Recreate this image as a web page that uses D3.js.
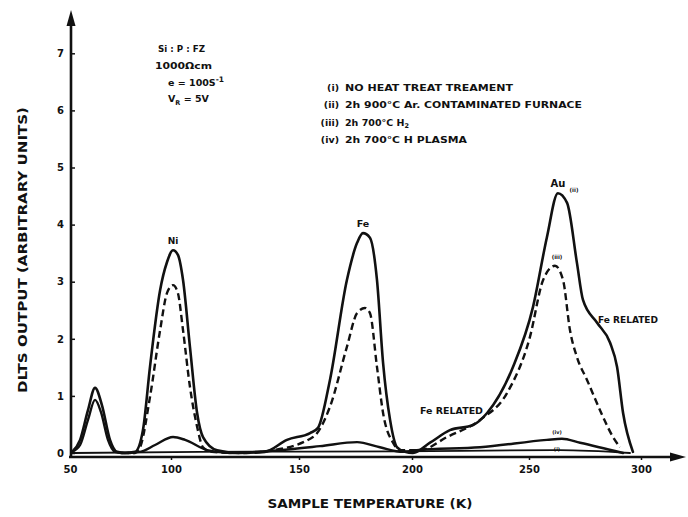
<!DOCTYPE html>
<html>
<head>
<meta charset="utf-8">
<script src="https://cdn.jsdelivr.net/npm/d3@7"></script>
<style>
  html, body { margin: 0; padding: 0; background: #fff; }
  svg { display: block; }
  text { font-family: "DejaVu Sans", "Liberation Sans", sans-serif; font-weight: bold; fill: #111; }
</style>
</head>
<body>
<svg id="chart" width="688" height="517"></svg>
<script>
// ---- axis ticks ----
const xTicks = [50, 100, 150, 200, 250, 300];   // sample temperature (K)
const yTicks = [0, 1, 2, 3, 4, 5, 6, 7];         // DLTS output (arbitrary units)

// ---- (ii) 2h 900°C Ar, contaminated furnace ----
const tempII = [51.0, 55.0, 58.9, 62.4, 65.8, 69.8, 73.3, 77.2, 82.2, 86.1, 89.6, 94.6, 98.0, 100.8, 102.7, 104.7,
  107.4, 110.2, 112.5, 118.0, 127.0, 136.7, 145.3, 154.9, 158.4, 163.7, 171.2, 175.7, 178.3, 181.4, 184.5,
  187.2, 190.3, 193.4, 196.9, 200.4, 207.7, 216.2, 226.1, 232.1, 243.2, 251.8, 258.0, 262.9, 267.0, 271.4,
  274.1, 280.4, 286.2, 289.3, 292.0, 296.4];
const dltsII = [0.02, 0.23, 0.75, 1.14, 0.84, 0.23, 0.02, 0.0, 0.02, 0.40, 1.51, 2.85, 3.34, 3.55, 3.47, 3.03,
  1.86, 0.70, 0.28, 0.05, 0.0, 0.02, 0.23, 0.35, 0.44, 1.28, 3.03, 3.68, 3.85, 3.77, 3.03,
  1.58, 0.58, 0.10, 0.02, 0.0, 0.18, 0.40, 0.49, 0.70, 1.51, 2.56, 3.78, 4.55, 4.38, 3.33,
  2.68, 2.28, 1.93, 1.51, 0.70, 0.02];

// ---- (iii) 2h 700°C H2 ----
const tempIII = [51.0, 55.0, 58.9, 62.4, 65.3, 68.8, 72.3, 75.7, 82.2, 84.7, 89.6, 94.6, 98.0, 100.8, 102.7, 104.7,
  107.4, 110.2, 112.5, 116.0, 127.0, 138.7, 156.2, 163.7, 171.2, 175.7, 179.2, 181.4, 184.5, 187.2, 191.6,
  194.7, 203.4, 215.0, 229.1, 240.6, 250.4, 256.3, 261.6, 265.2, 268.3, 271.4, 275.9, 281.7, 287.5, 290.6];
const dltsIII = [0.02, 0.14, 0.58, 0.93, 0.72, 0.23, 0.02, 0.0, 0.0, 0.10, 0.98, 2.15, 2.80, 2.94, 2.80, 2.15,
  1.16, 0.46, 0.10, 0.02, 0.0, 0.04, 0.28, 0.81, 1.86, 2.45, 2.54, 2.45, 1.51, 0.70, 0.18,
  0.05, 0.05, 0.28, 0.58, 1.05, 2.03, 3.03, 3.28, 3.03, 2.15, 1.68, 1.28, 0.75, 0.28, 0.10];

// ---- (iv) 2h 700°C H plasma ----
const tempIV = [75.2, 84.7, 92.1, 100.8, 105.5, 114.1, 123.0, 142.2, 159.3, 175.7, 185.8, 196.0, 202.1, 229.1,
  258.0, 264.7, 272.8, 292.0];
const dltsIV = [0.0, 0.02, 0.14, 0.28, 0.23, 0.05, 0.0, 0.05, 0.12, 0.19, 0.10, 0.02, 0.05, 0.10,
  0.23, 0.25, 0.18, 0.0];

// ---- (i) no heat treatment ----
const tempI = [51.0, 111.3, 194.7, 263.8, 295.1];
const dltsI = [0.0, 0.02, 0.03, 0.05, 0.0];

const svg = d3.select("#chart");

// hand-ruled temperature axis: tick spacing is not uniform on the plate
const x = d3.scaleLinear().domain(xTicks).range([70, 171, 299, 412, 529, 641]);
const y = d3.scaleLinear().domain([0, 7]).range([453, 53.3]);

const zip = (t, v) => t.map((d, i) => [d, v[i]]);
const line = d3.line().x(d => x(d[0])).y(d => y(d[1])).curve(d3.curveMonotoneX);

const curves = svg.append("g")
  .attr("fill", "none").attr("stroke", "#111")
  .attr("stroke-linejoin", "round").attr("stroke-linecap", "round");

curves.append("path").attr("d", line(zip(tempI, dltsI))).attr("stroke-width", 1.8);
curves.append("path").attr("d", line(zip(tempIV, dltsIV))).attr("stroke-width", 2.4);
curves.append("path").attr("d", line(zip(tempII, dltsII))).attr("stroke-width", 2.6);

const iii = zip(tempIII, dltsIII);
// the low-temperature peak of (iii) is traced as a continuous line
curves.append("path").attr("d", line(iii.filter(d => d[0] <= 76))).attr("stroke-width", 2.4);
curves.append("path").attr("d", line(iii.filter(d => d[0] >= 75)))
  .attr("stroke-width", 2.4).attr("stroke-dasharray", "7,4").attr("stroke-linecap", "butt");

// ---- axes ----
const yAxis = svg.append("g").attr("transform", "translate(71,0)")
  .call(d3.axisLeft(y).tickValues(yTicks).tickSizeInner(-4).tickSizeOuter(0).tickPadding(7).tickFormat(d3.format("d")));
yAxis.select(".domain").remove();
yAxis.selectAll(".tick line").attr("stroke", "#111").attr("stroke-width", 1.5);
yAxis.selectAll(".tick text").attr("font-size", 10).attr("fill", "#111")
  .attr("font-family", "\"DejaVu Sans\", sans-serif").attr("font-weight", "bold");

const xAxis = svg.append("g").attr("transform", "translate(0,457)")
  .call(d3.axisBottom(x).tickValues(xTicks).tickSizeInner(3).tickSizeOuter(0).tickPadding(6).tickFormat(d3.format("d")));
xAxis.select(".domain").remove();
xAxis.selectAll(".tick line").attr("stroke", "#111").attr("stroke-width", 1.5);
xAxis.selectAll(".tick text").attr("font-size", 10).attr("fill", "#111")
  .attr("font-family", "\"DejaVu Sans\", sans-serif").attr("font-weight", "bold");
xAxis.selectAll(".tick").filter(d => d === 50).select("line").remove();

// axis lines with arrow heads
svg.append("line").attr("x1", 71).attr("y1", 458).attr("x2", 71).attr("y2", 22)
  .attr("stroke", "#111").attr("stroke-width", 2.6);
svg.append("path").attr("d", "M71,10 L66.5,26 L75.5,26 Z").attr("fill", "#111");
svg.append("line").attr("x1", 69).attr("y1", 457).attr("x2", 672).attr("y2", 457)
  .attr("stroke", "#111").attr("stroke-width", 2.6);
svg.append("path").attr("d", "M686,457 L670,452.5 L670,461.5 Z").attr("fill", "#111");

// ---- axis titles ----
svg.append("text").attr("transform", "translate(27,250) rotate(-90)")
  .attr("text-anchor", "middle").attr("font-size", 13)
  .attr("textLength", 286).attr("lengthAdjust", "spacingAndGlyphs")
  .text("DLTS OUTPUT (ARBITRARY UNITS)");
svg.append("text").attr("x", 370).attr("y", 508)
  .attr("text-anchor", "middle").attr("font-size", 13)
  .attr("textLength", 205).attr("lengthAdjust", "spacingAndGlyphs")
  .text("SAMPLE TEMPERATURE (K)");

// ---- sample description ----
const info = svg.append("g").attr("font-size", 9.5);
info.append("text").attr("x", 158).attr("y", 52)
  .attr("textLength", 47).attr("lengthAdjust", "spacingAndGlyphs").text("Si : P : FZ");
info.append("text").attr("x", 155).attr("y", 69)
  .attr("textLength", 57).attr("lengthAdjust", "spacingAndGlyphs").text("1000\u03A9cm");
const rate = info.append("text").attr("x", 168).attr("y", 86);
rate.append("tspan").text("e = 100S");
rate.append("tspan").attr("dy", -4).attr("font-size", 7.5).text("-1");
const vr = info.append("text").attr("x", 168).attr("y", 102);
vr.append("tspan").text("V");
vr.append("tspan").attr("dy", 2.5).attr("font-size", 6.5).text("R");
vr.append("tspan").attr("dy", -2.5).text(" = 5V");

// ---- treatment key ----
const keyLabels = ["(i)", "(ii)", "(iii)", "(iv)"];
const keyText = ["NO HEAT TREAT TREAMENT", "2h 900\u00B0C Ar. CONTAMINATED FURNACE", "2h 700\u00B0C H", "2h 700\u00B0C H PLASMA"];
const keyWidths = [168, 237, null, 122];
const key = svg.append("g").attr("font-size", 9.5);
keyLabels.forEach((lab, i) => {
  const yy = 91 + i * 17.3;
  key.append("text").attr("x", 339).attr("y", yy).attr("text-anchor", "end").text(lab);
  const t = key.append("text").attr("x", 345).attr("y", yy).text(keyText[i]);
  if (keyWidths[i]) t.attr("textLength", keyWidths[i]).attr("lengthAdjust", "spacingAndGlyphs");
  if (i === 2) t.append("tspan").attr("dy", 2.5).attr("font-size", 6.5).text("2");
});

// ---- peak annotations ----
const notes = svg.append("g");
notes.append("text").attr("x", x(100.8)).attr("y", 244).attr("text-anchor", "middle").attr("font-size", 9).text("Ni");
notes.append("text").attr("x", x(178.3)).attr("y", 227).attr("text-anchor", "middle").attr("font-size", 9.5).text("Fe");
notes.append("text").attr("x", x(262.9)).attr("y", 187).attr("text-anchor", "middle").attr("font-size", 10).text("Au");
notes.append("text").attr("x", 574).attr("y", 192).attr("text-anchor", "middle").attr("font-size", 5.5).text("(ii)");
notes.append("text").attr("x", 557).attr("y", 259).attr("text-anchor", "middle").attr("font-size", 5.5).text("(iii)");
notes.append("text").attr("x", 557).attr("y", 434).attr("text-anchor", "middle").attr("font-size", 5).text("(iv)");
notes.append("text").attr("x", 557).attr("y", 451).attr("text-anchor", "middle").attr("font-size", 5).text("(i)");
notes.append("text").attr("x", 420).attr("y", 414).attr("font-size", 8.5)
  .attr("textLength", 63).attr("lengthAdjust", "spacingAndGlyphs").text("Fe RELATED");
notes.append("text").attr("x", 598).attr("y", 323).attr("font-size", 8.5)
  .attr("textLength", 60).attr("lengthAdjust", "spacingAndGlyphs").text("Fe RELATED");
</script>
</body>
</html>
